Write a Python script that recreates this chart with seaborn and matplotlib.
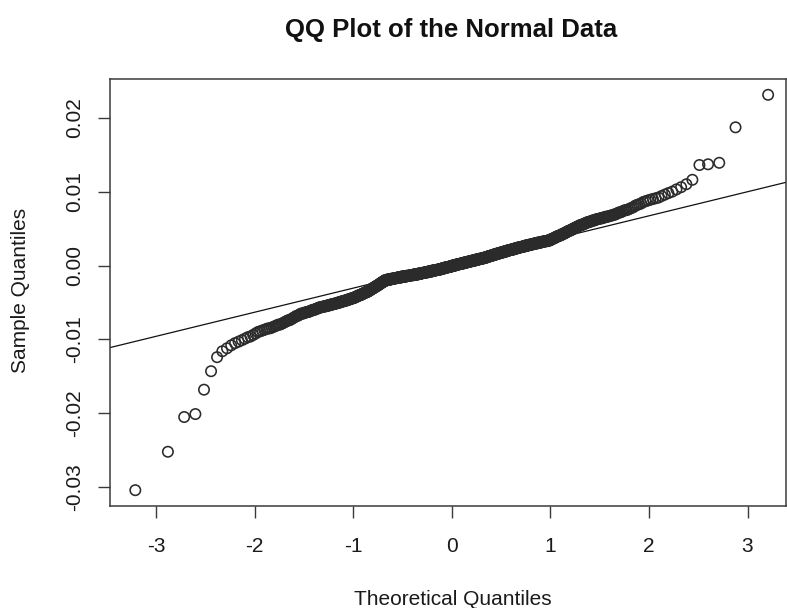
import matplotlib
matplotlib.use("Agg")
import matplotlib.pyplot as plt
import seaborn as sns
import numpy as np
import pandas as pd
from statistics import NormalDist

# ---------------- text ----------------
title = "QQ Plot of the Normal Data"
x_label = "Theoretical Quantiles"
y_label = "Sample Quantiles"
x_ticks = [-3, -2, -1, 0, 1, 2, 3]
x_tick_labels = ["-3", "-2", "-1", "0", "1", "2", "3"]
y_ticks = [-0.03, -0.02, -0.01, 0.00, 0.01, 0.02]
y_tick_labels = ["-0.03", "-0.02", "-0.01", "0.00", "0.01", "0.02"]

# ---------------- data ----------------
# sorted sample values (units of 1e-4), 750 points
sample_quantiles_e4 = [
    -304, -252, -205, -201, -168, -143, -124, -116, -112, -108,
    -105, -103, -101, -99, -97, -96, -94, -92, -90,
    -89, -88, -87, -86, -85, -85, -84, -83, -82, -81, -80,
    -80, -79, -78, -77, -76, -75, -74, -74, -73, -72, -71, -70, -69, -68, -68, -67,
    -66, -65, -65, -65, -64, -64, -63, -63, -63, -62, -62, -61, -61, -60, -60, -60,
    -59, -59, -58, -58, -57, -57,
    -57, -56, -56, -56, -56, -55, -55, -55, -55, -54, -54, -54, -54, -53, -53, -53,
    -53, -52, -52, -52, -52, -51, -51, -51, -51, -50, -50,
    -50, -50, -49, -49, -49, -49, -48, -48, -48, -48, -47, -47, -47, -47,
    -46, -46, -46, -46, -45, -45, -45, -45, -44, -44,
    -44, -44, -43, -43, -43, -42, -42, -42, -41, -41, -41, -40, -40, -40, -40,
    -39, -39, -39, -38, -38, -38, -37, -37, -37, -36, -36, -36, -36, -35,
    -35, -35, -34, -34, -33, -33, -33, -32, -32, -31, -31, -31, -30, -30, -30,
    -29, -29, -28, -28, -28, -27, -27, -27, -26, -26, -25, -25,
    -25, -24, -24, -23, -23, -23, -22, -22, -22, -21, -21, -20, -20,
    -20, -20, -20, -20,
    -19, -19, -19, -19, -19, -19, -19, -19, -19,
    -18, -18, -18, -18, -18, -18, -18, -18, -18,
    -17, -17, -17, -17, -17, -17, -17, -17, -17,
    -16, -16, -16, -16, -16, -16, -16, -16, -16, -16,
    -15, -15, -15, -15, -15, -15, -15, -15, -15, -15, -15, -15,
    -14, -14, -14, -14, -14, -14, -14, -14, -14, -14, -14,
    -13, -13, -13, -13, -13, -13, -13, -13, -13, -13, -13,
    -12, -12, -12, -12, -12, -12, -12, -12, -12, -12, -12, -12,
    -11, -11, -11, -11, -11, -11, -11, -11, -11, -11,
    -10, -10, -10, -10, -10, -10, -10, -10, -10, -10,
    -9, -9, -9, -9, -9, -9, -9, -9, -9, -9,
    -8, -8, -8, -8, -8, -8, -8, -8, -8, -8,
    -7, -7, -7, -7, -7, -7, -7, -7, -7, -7,
    -6, -6, -6, -6, -6, -6, -6, -6, -6, -6,
    -5, -5, -5, -5, -5, -5, -5, -5, -5,
    -4, -4, -4, -4, -4, -4, -4, -4,
    -3, -3, -3, -3, -3, -3, -3, -3, -3,
    -2, -2, -2, -2, -2, -2, -2, -2,
    -1, -1, -1, -1, -1, -1, -1, -1,
    0, 0, 0, 0, 0, 0, 0, 0, 0,
    1, 1, 1, 1, 1, 1, 1, 1,
    2, 2, 2, 2, 2, 2, 2, 2, 2,
    3, 3, 3, 3, 3, 3, 3, 3, 3,
    4, 4, 4, 4, 4, 4, 4, 4, 4,
    5, 5, 5, 5, 5, 5, 5, 5, 5,
    6, 6, 6, 6, 6, 6, 6, 6,
    7, 7, 7, 7, 7, 7, 7, 7, 7,
    8, 8, 8, 8, 8, 8, 8, 8, 8,
    9, 9, 9, 9, 9, 9, 9, 9, 9,
    10, 10, 10, 10, 10, 10, 10, 10,
    11, 11, 11, 11, 11, 11, 11,
    12, 12, 12, 12, 12, 12,
    13, 13, 13, 13, 13, 13, 13,
    14, 14, 14, 14, 14, 14,
    15, 15, 15, 15, 15, 15, 15,
    16, 16, 16, 16, 16, 16, 16,
    17, 17, 17, 17, 17, 17,
    18, 18, 18, 18, 18, 18, 18,
    19, 19, 19, 19, 19, 19, 19,
    20, 20, 20, 20, 20, 20,
    21, 21, 21, 21, 21, 21, 21,
    22, 22, 22, 22, 22, 22, 22,
    23, 23, 23, 23, 23, 23,
    24, 24, 24, 24, 24, 24, 24,
    25, 25, 25, 25, 25, 25, 25,
    26, 26, 26, 26, 26, 26,
    27, 27, 27, 27, 27, 27, 27,
    28, 28, 28, 28, 28, 28, 28,
    29, 29, 29, 29, 29, 29,
    30, 30, 30, 30, 30, 30, 30,
    31, 31, 31, 31, 31, 31, 31,
    32, 32, 32, 32, 32, 32,
    33, 33, 33, 33, 33, 33, 33,
    34, 34, 34, 34, 34,
    35, 35, 36, 36, 36, 37, 37, 37, 38, 38, 39, 39, 39, 40, 40, 40,
    41, 41, 41, 42, 42, 43, 43, 43, 44, 44,
    45, 45, 46, 46, 47, 47, 47, 48, 48, 49, 49, 50, 50, 51, 51,
    52, 52, 53, 53, 54, 54, 55, 55, 55, 56, 56, 57,
    57, 58, 58, 59, 59, 59, 60, 60, 61, 61, 61, 62, 62, 63, 63, 63,
    64, 64, 64, 65, 65, 66, 66, 66, 67, 67, 68, 68,
    69, 69, 70, 71, 72, 72, 73, 74, 75, 75, 76, 77,
    78, 79, 81, 82, 83, 84, 86, 87, 88, 89, 90, 91, 92,
    94, 96, 98, 100, 103, 106, 110, 116, 136, 137, 139, 187, 231,
]

sample = np.array(sample_quantiles_e4, dtype=float) / 1e4
n = len(sample)
nd = NormalDist()
# theoretical quantiles as in R's qqnorm (ppoints, a = 0.5)
theoretical = np.array([nd.inv_cdf((i - 0.5) / n) for i in range(1, n + 1)])
df = pd.DataFrame({"theoretical": theoretical, "sample": sample})

# ---------------- style ----------------
sns.set_style("ticks")
plt.rcParams["font.family"] = ["Liberation Sans", "DejaVu Sans"]

fig = plt.figure(figsize=(7.87, 6.08), dpi=100)
ax = fig.add_axes([110 / 787, 1 - 506 / 608, 676 / 787, 427 / 608])

sns.scatterplot(data=df, x="theoretical", y="sample", ax=ax, marker="o", s=56,
                facecolor="none", edgecolor="#2b2b2b", linewidth=1.15, zorder=3)

# qqline through the quartiles
q_y = np.quantile(sample, [0.25, 0.75])
q_x = [nd.inv_cdf(0.25), nd.inv_cdf(0.75)]
slope = (q_y[1] - q_y[0]) / (q_x[1] - q_x[0])
intercept = q_y[0] - slope * q_x[0]
ax.axline((0, intercept), slope=slope, color="#111111", lw=0.9, zorder=2)

yr = sample.max() - sample.min()
ax.set_ylim(sample.min() - 0.04 * yr, sample.max() + 0.04 * yr)
xr = theoretical.max() - theoretical.min()
ax.set_xlim(theoretical.min() - 0.04 * xr, 3.39)

ax.set_xticks(x_ticks)
ax.set_xticklabels(x_tick_labels)
ax.set_yticks(y_ticks)
ax.set_yticklabels(y_tick_labels)

for sp in ax.spines.values():
    sp.set_visible(True)
    sp.set_color("#3a3a3a")
    sp.set_linewidth(1.1)

ax.tick_params(axis="both", direction="out", length=8.6, width=1.0,
               color="#3a3a3a", labelsize=15, labelcolor="#1a1a1a")
ax.tick_params(axis="x", pad=14.0)
ax.tick_params(axis="y", pad=9.8, labelrotation=90)
for lbl in ax.get_yticklabels():
    lbl.set_va("center")

ax.set_title(title, fontsize=18.5, fontweight="bold", y=1.098, x=0.5052,
             va="baseline", pad=0, color="#111111")
ax.set_xlabel(x_label, fontsize=15, color="#1a1a1a", va="baseline")
ax.xaxis.set_label_coords(0.507, -0.232)
ax.set_ylabel(y_label, fontsize=15, color="#1a1a1a")
ax.yaxis.set_label_coords(-0.118, 0.506)

fig.savefig("out.png", dpi=100)
